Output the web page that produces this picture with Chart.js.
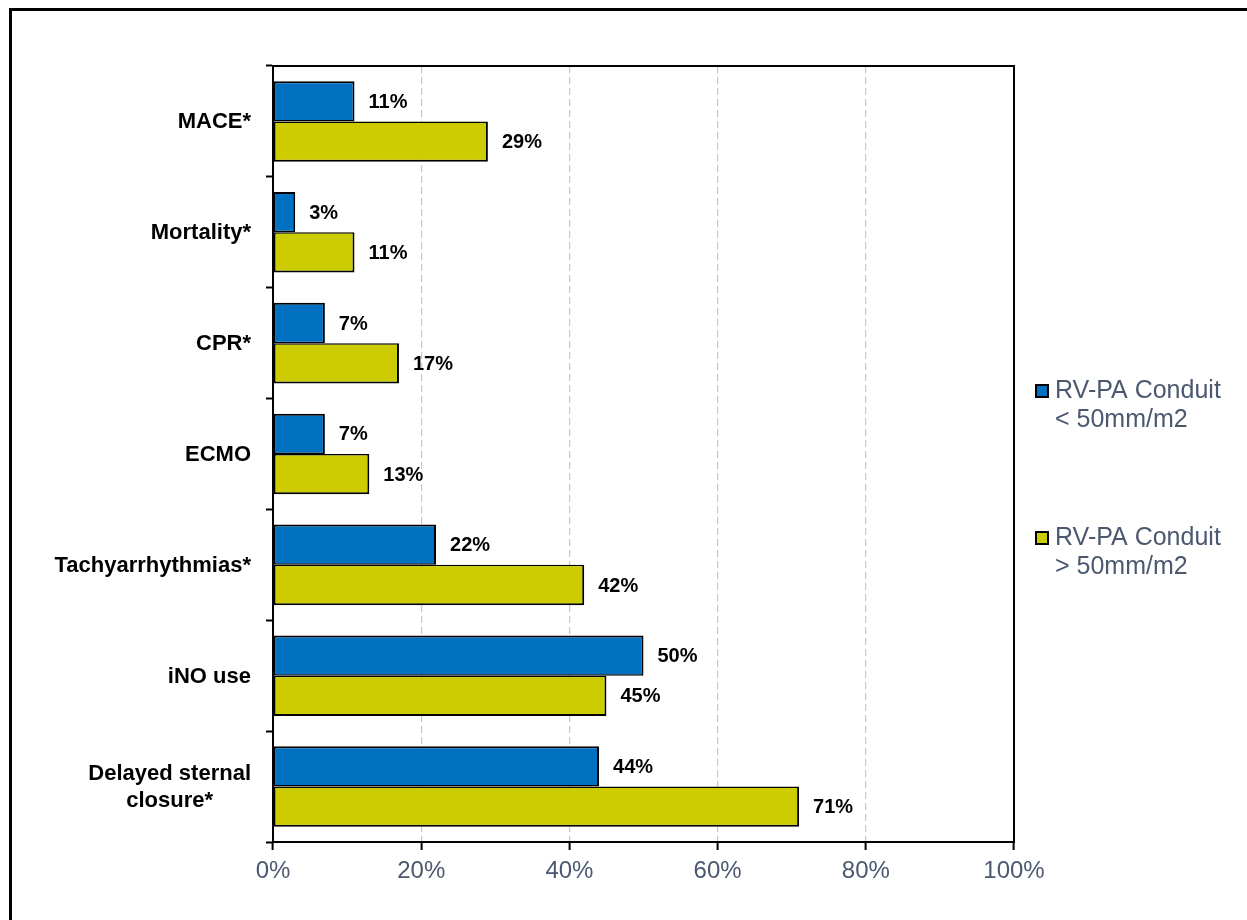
<!DOCTYPE html>
<html lang="en">
<head>
    <meta charset="UTF-8">
    <title>RV-PA Conduit Size and Outcomes</title>
    <script src="https://cdn.jsdelivr.net/npm/chart.js"></script>
    <style>
        body {
            margin: 0;
            background: #fff;
        }
        canvas {
            display: block;
        }
    </style>
</head>
<body>

    <canvas id="outcomeChart" width="1247" height="920"></canvas>

    <script>
        // Outcome categories (multi-line where the label wraps)
        const outcomes = [
            ["MACE*"],
            ["Mortality*"],
            ["CPR*"],
            ["ECMO"],
            ["Tachyarrhythmias*"],
            ["iNO use"],
            ["Delayed sternal", "closure*"]
        ];
        // Percent of patients per group
        const smallConduit = [11, 3, 7, 7, 22, 50, 44];
        const largeConduit = [29, 11, 17, 13, 42, 45, 71];
        const xTicks = [0, 20, 40, 60, 80, 100];
        const seriesNames = [
            ["RV-PA Conduit", "< 50mm/m2"],
            ["RV-PA Conduit", "> 50mm/m2"]
        ];
        const seriesColors = ["#0070c0", "#cccc00"];

        const FONT = "'Liberation Sans', Arial, sans-serif";
        const SLATE = "#4b586f";

        // outer frame, plot border, category labels, value labels, legend
        const decorations = {
            id: "decorations",
            beforeDraw(chart) {
                const ctx = chart.ctx;
                ctx.save();
                ctx.fillStyle = "#000";
                ctx.fillRect(9, 8, chart.width - 9, 3);
                ctx.fillRect(9, 8, 3, chart.height - 8);
                ctx.restore();
            },
            afterDatasetsDraw(chart) {
                const ctx = chart.ctx;
                const area = chart.chartArea;
                ctx.save();

                // value labels at bar ends
                ctx.font = "bold 20px " + FONT;
                ctx.fillStyle = "#000";
                ctx.textAlign = "left";
                ctx.textBaseline = "middle";
                chart.data.datasets.forEach((ds, di) => {
                    chart.getDatasetMeta(di).data.forEach((bar, i) => {
                        ctx.fillText(Math.round(ds.data[i]) + "%", bar.x + 14, bar.y + 1);
                    });
                });

                // category labels, right-aligned block, lines centred
                const yScale = chart.scales.y;
                ctx.font = "bold 22px " + FONT;
                ctx.textAlign = "center";
                outcomes.forEach((lines, i) => {
                    const cy = yScale.getPixelForValue(i);
                    const widest = Math.max(...lines.map(l => ctx.measureText(l).width));
                    const cx = 251 - widest / 2;
                    lines.forEach((line, j) => {
                        ctx.fillText(line, cx, cy + (j - (lines.length - 1) / 2) * 27 + 1);
                    });
                });

                // plot frame
                ctx.strokeStyle = "#000";
                ctx.lineWidth = 2;
                ctx.strokeRect(area.left, area.top, area.right - area.left, area.bottom - area.top);

                // legend
                const legendTops = [384, 531];
                ctx.font = "25px " + FONT;
                ctx.textAlign = "left";
                ctx.textBaseline = "alphabetic";
                seriesNames.forEach((lines, i) => {
                    const top = legendTops[i];
                    ctx.fillStyle = seriesColors[i];
                    ctx.fillRect(1035, top, 14, 14);
                    ctx.strokeStyle = "#000";
                    ctx.lineWidth = 2;
                    ctx.strokeRect(1036, top + 1, 12, 12);
                    ctx.fillStyle = SLATE;
                    lines.forEach((line, j) => {
                        ctx.fillText(line, 1055, top + 14 + j * 29);
                    });
                });

                ctx.restore();
            }
        };

        const ctx = document.getElementById("outcomeChart").getContext("2d");
        new Chart(ctx, {
            type: "bar",
            data: {
                labels: outcomes,
                datasets: [{
                    label: seriesNames[0].join(" "),
                    data: smallConduit,
                    backgroundColor: seriesColors[0],
                    borderColor: "#000",
                    borderWidth: { top: 2, bottom: 1.5, left: 2, right: 2 },
                    borderSkipped: false
                }, {
                    label: seriesNames[1].join(" "),
                    data: largeConduit,
                    backgroundColor: seriesColors[1],
                    borderColor: "#000",
                    borderWidth: { top: 1.5, bottom: 2, left: 2, right: 2 },
                    borderSkipped: false
                }]
            },
            options: {
                indexAxis: "y",
                responsive: false,
                animation: false,
                devicePixelRatio: 1,
                datasets: {
                    bar: { categoryPercentage: 0.727, barPercentage: 1 }
                },
                layout: { padding: { top: 66, right: 233, bottom: 0, left: 0 } },
                plugins: {
                    legend: { display: false },
                    tooltip: { enabled: false }
                },
                scales: {
                    x: {
                        min: 0,
                        max: 100,
                        afterBuildTicks: axis => { axis.ticks = xTicks.map(v => ({ value: v })); },
                        afterFit: axis => { axis.height = 78; },
                        ticks: {
                            callback: v => v + "%",
                            color: SLATE,
                            font: { family: FONT, size: 24 },
                            padding: 7,
                            maxRotation: 0
                        },
                        grid: {
                            color: "#c8c8c8",
                            lineWidth: 1.2,
                            tickLength: 8,
                            tickColor: "#000",
                            tickWidth: 2,
                            tickBorderDash: []
                        },
                        border: { color: "#000", width: 2, dash: [7, 4] }
                    },
                    y: {
                        afterFit: axis => { axis.width = 273; },
                        ticks: { display: false },
                        grid: {
                            offset: true,
                            drawOnChartArea: false,
                            tickLength: 7,
                            tickColor: "#000",
                            tickWidth: 2
                        },
                        border: { color: "#000", width: 2 }
                    }
                }
            },
            plugins: [decorations]
        });
    </script>

</body>
</html>
